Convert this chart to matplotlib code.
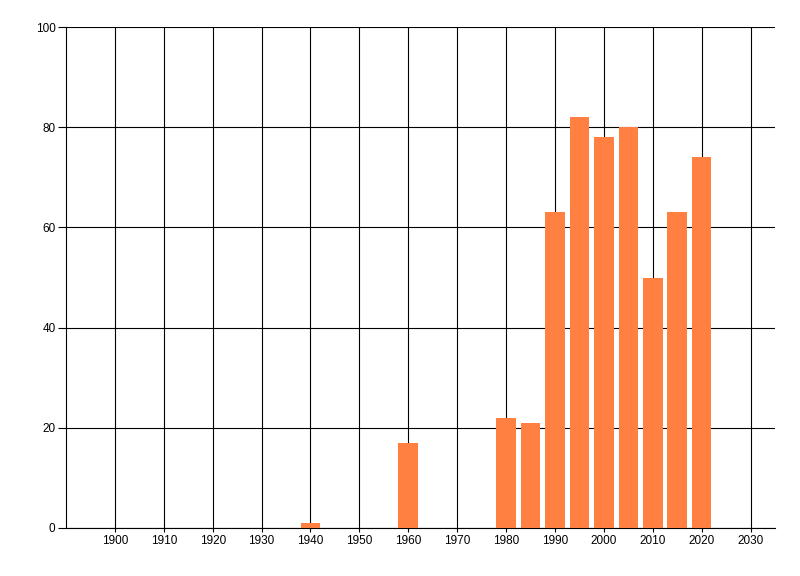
import matplotlib
matplotlib.use("Agg")
import matplotlib.pyplot as plt

# valores
anos = [1940, 1960, 1980, 1985, 1990, 1995, 2000, 2005, 2010, 2015, 2020]
valores = [1, 17, 22, 21, 63, 82, 78, 80, 50, 63, 74]
xticks = list(range(1900, 2031, 10))
yticks = [0, 20, 40, 60, 80, 100]

plt.rcParams['font.family'] = ['Liberation Sans', 'DejaVu Sans']

fig = plt.figure(figsize=(8, 5.76), dpi=100)
ax = fig.add_axes([66/800, 48/576, (775-66)/800, (528-27)/576])

ax.bar(anos, valores, width=4, color="#FF8040", zorder=3)

ax.set_xlim(1890, 2035)
ax.set_ylim(0, 100)
ax.set_xticks(xticks)
ax.set_yticks(yticks)
ax.grid(True, color="black", linewidth=0.8, zorder=0)
ax.set_axisbelow(True)

for s in ["top", "right"]:
    ax.spines[s].set_visible(False)
for s in ["left", "bottom"]:
    ax.spines[s].set_linewidth(0.8)

ax.tick_params(axis="y", labelsize=8.5, width=0.8, length=5.5, pad=2)
ax.tick_params(axis="x", labelsize=8.5, width=0.8, length=3, pad=2)

fig.savefig("out.png", dpi=100)
